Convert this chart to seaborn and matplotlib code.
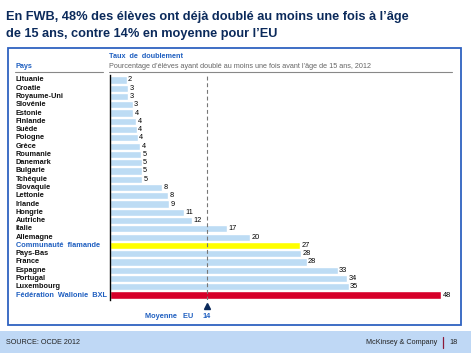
import numpy as np
import pandas as pd
import matplotlib.pyplot as plt
import matplotlib.transforms as mtransforms
from matplotlib.patches import Rectangle
from matplotlib.lines import Line2D
import seaborn as sns

sns.set_theme(style="white")
plt.rcParams["font.family"] = ["Liberation Sans", "DejaVu Sans"]

# data
pays = ["Lituanie", "Croatie", "Royaume-Uni", "Slovénie", "Estonie", "Finlande",
        "Suède", "Pologne", "Grèce", "Roumanie", "Danemark", "Bulgarie", "Tchéquie",
        "Slovaquie", "Lettonie", "Irlande", "Hongrie", "Autriche", "Italie",
        "Allemagne", "Communauté  flamande", "Pays-Bas", "France", "Espagne",
        "Portugal", "Luxembourg", "Fédération  Wallonie  BXL"]
taux = [2.4, 2.6, 2.6, 3.3, 3.4, 3.8, 3.9, 4.0, 4.4, 4.5, 4.6, 4.6, 4.7,
        7.5, 8.4, 8.6, 10.7, 11.9, 17.0, 20.3, 27.5, 27.7, 28.5, 33.0,
        34.4, 34.6, 48.0]
etiquettes = ["2", "3", "3", "3", "4", "4", "4", "4", "4", "5", "5", "5", "5",
              "8", "8", "9", "11", "12", "17", "20", "27", "28", "28", "33",
              "34", "35", "48"]
moyenne_eu = 14

BLEU_CLAIR = "#BDDCF4"
couleurs = [BLEU_CLAIR] * len(pays)
couleurs[pays.index("Communauté  flamande")] = "#FFFF00"
couleurs[pays.index("Fédération  Wallonie  BXL")] = "#D6002A"
mis_en_avant = ["Communauté  flamande", "Fédération  Wallonie  BXL"]

df = pd.DataFrame({"pays": pays, "taux": taux})

W, H = 471, 353
fig = plt.figure(figsize=(W / 100, H / 100), dpi=100)
fig.patch.set_facecolor("white")

def fx(px):
    return px / W

def fy(py):
    return 1 - py / H

# axes: x 110..452 px, y 75..300 px
ax = fig.add_axes([fx(110), fy(300), fx(452) - fx(110), (300 - 75) / H])
sns.barplot(data=df, y="pays", x="taux", hue="pays", palette=couleurs,
            orient="h", width=0.86, legend=False, ax=ax, saturation=1)
ax.set_xlim(0, 342 / 6.9)
ax.set_ylim(len(pays) - 0.4, -0.6)
ax.set_xlabel("")
ax.set_ylabel("")
ax.set_xticks([])
ax.set_yticks([])
for s in ["top", "right", "bottom"]:
    ax.spines[s].set_visible(False)
ax.spines["left"].set_color("black")
ax.spines["left"].set_linewidth(1.0)

for cont, lab in zip(ax.containers, etiquettes):
    ax.bar_label(cont, labels=[lab], padding=1, fontsize=5.3, color="black")

# country names
trans = mtransforms.blended_transform_factory(fig.transFigure, ax.transData)
for i, p in enumerate(pays):
    c = "#1F5FC0" if p in mis_en_avant else "#111111"
    ax.text(fx(16), i, p, transform=trans, fontsize=5.3, color=c,
            ha="left", va="center", fontweight="bold")

# EU mean
ax.axvline(moyenne_eu, color="#777777", lw=0.8, ls=(0, (3.5, 2.5)))
tb = mtransforms.blended_transform_factory(ax.transData, ax.transAxes)
ax.plot([moyenne_eu], [-0.027], marker="^", color="#0B2A5B", markersize=5,
        transform=tb, clip_on=False)
ax.text(moyenne_eu, -0.072, "14", transform=tb, fontsize=5.3, color="#1F5FC0",
        ha="center", va="center", fontweight="bold")
ax.annotate("Moyenne   EU", xy=(moyenne_eu, -0.072), xycoords=tb,
            xytext=(-13, 0), textcoords="offset pixels", fontsize=5.3,
            color="#1F5FC0", ha="right", va="center", fontweight="bold")

# title
fig.text(fx(6), fy(17), "En FWB, 48% des élèves ont déjà doublé au moins une fois à l’âge",
         fontsize=9.2, fontweight="bold", color="#0B2A5B", ha="left", va="center")
fig.text(fx(6), fy(34), "de 15 ans, contre 14% en moyenne pour l’EU",
         fontsize=9.2, fontweight="bold", color="#0B2A5B", ha="left", va="center")

# frame
fig.add_artist(Rectangle((fx(8), fy(325)), fx(461) - fx(8), (325 - 48) / H,
                         transform=fig.transFigure, fill=False,
                         edgecolor="#2F62C0", lw=1.3))

# headers
fig.text(fx(109), fy(56), "Taux  de  doublement", fontsize=5.2, fontweight="bold",
         color="#1F5FC0", ha="left", va="center")
fig.text(fx(109), fy(66), "Pourcentage d’élèves ayant doublé au moins une fois avant l’âge de 15 ans, 2012",
         fontsize=5.2, color="#666666", ha="left", va="center")
fig.text(fx(16), fy(66), "Pays", fontsize=5.2, fontweight="bold",
         color="#1F5FC0", ha="left", va="center")
fig.add_artist(Line2D([fx(15), fx(103)], [fy(72), fy(72)], color="#888888", lw=0.8,
                      transform=fig.transFigure))
fig.add_artist(Line2D([fx(109), fx(452)], [fy(72), fy(72)], color="#888888", lw=0.8,
                      transform=fig.transFigure))

# footer
fig.add_artist(Rectangle((0, 0), 1, (H - 331) / H, transform=fig.transFigure,
                         facecolor="#BFD8F5", edgecolor="none"))
fig.text(fx(6), fy(342), "SOURCE: OCDE 2012", fontsize=5.2, color="#222222",
         ha="left", va="center")
fig.text(fx(437), fy(342), "McKinsey & Company", fontsize=5.2, color="#222222",
         ha="right", va="center")
fig.add_artist(Line2D([fx(443), fx(443)], [fy(337), fy(348)], color="#8B1A3A", lw=0.9,
                      transform=fig.transFigure))
fig.text(fx(449), fy(342), "18", fontsize=5.2, color="#222222", ha="left", va="center")

fig.savefig("out.png", dpi=100)
